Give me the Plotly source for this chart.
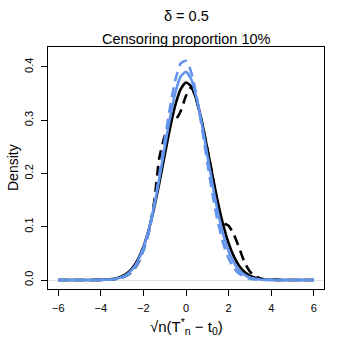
import plotly.graph_objects as go

# grid of the density estimates
x_grid = [-6, -5, -4.5, -4, -3.75, -3.5, -3.25, -3, -2.75, -2.5, -2.25, -2, -1.75, -1.5,
          -1.25, -1, -0.75, -0.5, -0.25, 0, 0.25, 0.5, 0.75, 1, 1.25, 1.5, 1.75, 2,
          2.25, 2.5, 2.75, 3, 3.25, 3.5, 3.75, 4, 4.5, 5, 6]

black_solid = [0, 0, 0.0001, 0.0003, 0.0008, 0.0017, 0.0035, 0.0070, 0.0131, 0.0233, 0.0391,
               0.0624, 0.0942, 0.1347, 0.1826, 0.2344, 0.2852, 0.3286, 0.3586, 0.3709, 0.3633,
               0.3372, 0.2965, 0.2469, 0.1949, 0.1457, 0.1031, 0.0692, 0.0440, 0.0265, 0.0151,
               0.0082, 0.0042, 0.0020, 0.0009, 0.0004, 0.0001, 0, 0]

black_dashed = [0, 0, 0, 0.0002, 0.0004, 0.0010, 0.0020, 0.0045, 0.0090, 0.0170, 0.0320,
                0.0560, 0.0900, 0.1450, 0.2300, 0.2700, 0.2970, 0.3000, 0.3170, 0.3460, 0.3620,
                0.3360, 0.2950, 0.2460, 0.1950, 0.1330, 0.1070, 0.1020, 0.0850, 0.0600, 0.0330,
                0.0160, 0.0070, 0.0030, 0.0010, 0.0004, 0.0001, 0, 0]

blue_solid = [0, 0, 0, 0.0002, 0.0005, 0.0012, 0.0027, 0.0056, 0.0112, 0.0208, 0.0366,
              0.0606, 0.0943, 0.1384, 0.1912, 0.2488, 0.3048, 0.3516, 0.3820, 0.3908, 0.3765,
              0.3416, 0.2919, 0.2348, 0.1779, 0.1269, 0.0853, 0.0540, 0.0322, 0.0180, 0.0095,
              0.0047, 0.0022, 0.0010, 0.0004, 0.0002, 0, 0, 0]

blue_dashed = [0, 0, 0, 0.0001, 0.0003, 0.0008, 0.0019, 0.0042, 0.0090, 0.0178, 0.0329,
               0.0560, 0.0880, 0.1380, 0.1980, 0.2622, 0.3245, 0.3757, 0.4066, 0.4116, 0.3895,
               0.3448, 0.2853, 0.2208, 0.1598, 0.1081, 0.0684, 0.0405, 0.0224, 0.0116, 0.0056,
               0.0025, 0.0011, 0.0004, 0.0002, 0.0001, 0, 0, 0]

x_ticks = [-6, -4, -2, 0, 2, 4, 6]
x_labels = ["\u22126", "\u22124", "\u22122", "0", "2", "4", "6"]
y_ticks = [0, 0.1, 0.2, 0.3, 0.4]
y_labels = ["0.0", "0.1", "0.2", "0.3", "0.4"]

blue = "#6495ED"
font = "Liberation Sans, Arial, sans-serif"

fig = go.Figure()
for y, col, dash in [(black_solid, "black", "solid"),
                     (black_dashed, "black", "10px,6px"),
                     (blue_solid, blue, "solid"),
                     (blue_dashed, blue, "10px,6px")]:
    fig.add_trace(go.Scatter(x=x_grid, y=y, mode="lines",
                             line=dict(color=col, width=2.6, dash=dash, shape="spline", smoothing=0.6),
                             showlegend=False, hoverinfo="skip"))

axis_common = dict(showline=True, mirror=True, linecolor="black", linewidth=1,
                   ticks="outside", ticklen=6, tickcolor="black", showgrid=False,
                   automargin=False,
                   tickfont=dict(family=font, size=11, color="black"))

fig.update_xaxes(range=[-6.48, 6.48], tickvals=x_ticks, ticktext=x_labels,
                 zeroline=False, ticklabelstandoff=3, **axis_common)
fig.update_yaxes(range=[-0.0169, 0.4375], tickvals=y_ticks, ticktext=y_labels,
                 tickangle=-90, zeroline=True, zerolinecolor="#e3e3e3", zerolinewidth=1,
                 ticklabelstandoff=4, **axis_common)

fig.update_layout(
    width=349, height=349,
    margin=dict(l=48, r=25, t=47, b=60),
    paper_bgcolor="white", plot_bgcolor="white",
    font=dict(family=font, color="black"),
    annotations=[
        dict(text="\u03b4 = 0.5", xref="paper", yref="paper", x=0.5, y=1, yshift=31,
             xanchor="center", yanchor="middle", showarrow=False, font=dict(size=14.5)),
        dict(text="Censoring proportion 10%", xref="paper", yref="paper", x=0.5, y=1, yshift=8,
             xanchor="center", yanchor="middle", showarrow=False, font=dict(size=14.5)),
        dict(text="\u221an(T<sup>*</sup><sub>n</sub> \u2212 t<sub>0</sub>)", xref="paper", yref="paper",
             x=0.5, y=0, yshift=-37, xanchor="center", yanchor="middle",
             showarrow=False, font=dict(size=15)),
        dict(text="Density", xref="paper", yref="paper", x=0, y=0.5, xshift=-35,
             xanchor="center", yanchor="middle",
             textangle=-90, showarrow=False, font=dict(size=14)),
    ],
)

fig.write_html("out.html", config={"displayModeBar": False},
               post_script="document.body.style.margin='0';")
